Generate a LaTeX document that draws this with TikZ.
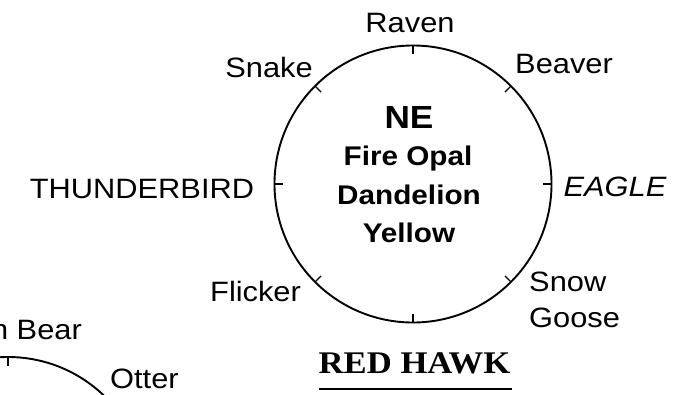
\documentclass[tikz,border=0pt]{standalone}
\usepackage{fontspec}
\usetikzlibrary{calc}
\setmainfont{Liberation Sans}[FakeStretch=1.1]
\newfontfamily\rhfont{Liberation Serif}[FakeStretch=1.1]
\begin{document}
\begin{tikzpicture}[x=1pt,y=-1pt,
  lbl/.style={font=\fontsize{28}{28}\selectfont, anchor=base, inner sep=0pt},
  ctr/.style={font=\fontsize{27}{27}\selectfont\bfseries, anchor=base, inner sep=0pt},
  ring/.style={line width=1.9pt},
  tick/.style={line width=1.2pt}]
\clip (0,0) rectangle (692,394);
\fill[white] (0,0) rectangle (692,394);
% main wheel
\coordinate (c1) at (413,184);
\draw[ring] (c1) circle[radius=138.5];
\foreach \a in {0,45,...,315}{
  \draw[tick] ($(c1)+(\a:138.5)$) -- ($(c1)+(\a:130)$);
}
% second wheel (partly visible)
\coordinate (c2) at (8,495.5);
\draw[ring] (c2) circle[radius=138.5];
\foreach \a in {0,45,...,315}{
  \draw[tick] ($(c2)+(\a:138.5)$) -- ($(c2)+(\a:130)$);
}
% labels round main wheel
\node[lbl] (raven) at (410,32) {Raven};
\node[lbl] (snake) at (269,77) {Snake};
\node[lbl] (beaver) at (564,73) {Beaver};
\node[lbl] (thunder) at (142,198) {THUNDERBIRD};
\node[lbl] (eagle) at (615,196) {\itshape EAGLE};
\node[lbl, anchor=base west] (snow) at (529,291) {Snow};
\node[lbl, anchor=base west] (goose) at (529,327) {Goose};
\node[lbl, anchor=base west] (flicker) at (210,301) {Flicker};
% center text
\node[ctr, font=\fontsize{32}{32}\selectfont\bfseries] (ne) at (409,128) {NE};
\node[ctr] (opal) at (408,165) {Fire Opal};
\node[ctr] (dand) at (409,204) {Dandelion};
\node[ctr] (yell) at (409,242) {Yellow};
% title
\node[anchor=base, inner sep=0pt, font=\rhfont\bfseries\fontsize{31.5}{32}\selectfont] (rh) at (414.5,373) {RED HAWK};
\draw[line width=2pt] (rh.west |- 0,388.5) coordinate (ul1) -- ([xshift=2pt]rh.east |- 0,388.5) coordinate (ul2);
% second wheel labels
\node[lbl, anchor=base east] (bear) at (82,339) {n Bear};
\node[lbl, anchor=base west] (otter) at (110,388) {Otter};
\end{tikzpicture}
\end{document}
